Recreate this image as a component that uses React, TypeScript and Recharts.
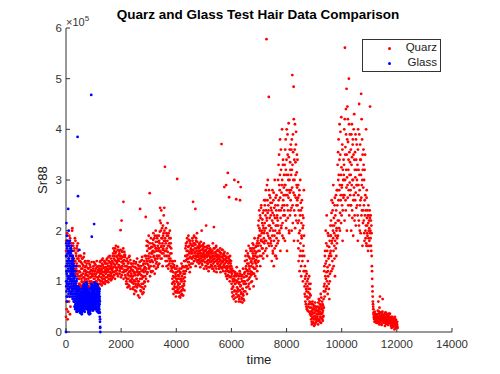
import React from "react";
import { ScatterChart, Scatter, XAxis, YAxis } from "recharts";

// Sr88 readings in thousands. Each material has two interleaved sample runs:
// run A at t = i*step, run B half a step later.
const quarzStep = 12;
const glassStep = 5;

const quarzValues = [
  30,180,45,150,120,25,170,95,140,60,190,110,35,160,130,80,175,100,145,205,
  150,120,170,95,135,160,110,185,140,100,155,125,90,165,145,115,175,130,105,150,
  120,95,140,110,150,88,125,105,135,98,145,115,92,130,108,155,100,122,140,112,
  105,130,85,118,95,140,75,110,125,90,135,100,115,82,128,108,95,120,70,112,
  95,120,80,130,105,72,115,135,90,110,125,85,100,140,78,118,95,108,130,88,
  110,130,95,120,140,100,115,125,92,135,105,145,112,98,128,118,105,138,95,122,
  115,135,100,125,145,108,120,130,98,140,112,125,150,105,118,135,102,128,110,140,
  125,150,108,165,135,118,160,142,105,155,128,170,115,148,138,122,162,110,145,132,
  140,160,115,150,125,201,108,145,220,130,158,118,140,165,105,135,152,122,148,112,
  120,140,95,130,105,145,88,125,112,138,92,118,150,100,128,85,135,110,122,98,
  110,130,85,120,95,140,75,115,100,128,90,135,80,118,105,145,92,112,72,125,
  100,130,68,115,243,90,140,80,120,105,148,75,110,95,135,85,125,100,150,90,
  120,227,105,145,180,115,135,170,100,150,190,125,140,274,110,165,130,185,118,155,
  140,175,120,160,195,130,150,185,115,170,145,200,125,165,138,190,150,128,178,160,
  150,190,135,175,220,160,145,200,240,170,155,185,130,210,165,195,180,245,150,326,
  180,140,205,160,130,190,150,215,170,125,195,145,175,135,200,155,185,120,165,140,
  120,95,135,85,110,75,128,100,90,140,80,115,70,105,125,88,302,98,78,112,
  85,110,70,125,95,68,118,80,105,135,75,100,90,128,72,115,95,140,82,108,
  140,165,120,175,150,130,185,145,160,125,190,138,170,155,118,180,148,162,135,172,
  160,145,185,135,257,170,150,190,140,175,155,243,130,180,165,148,195,138,168,152,
  150,165,135,175,145,160,128,170,155,140,200,148,132,162,172,142,158,125,168,150,
  145,160,130,150,168,125,155,140,165,135,152,120,170,142,158,128,148,162,138,155,
  140,160,125,150,175,135,145,207,120,165,150,130,155,140,170,118,148,160,135,152,
  145,130,160,125,150,140,165,118,135,155,371,128,148,162,138,120,152,142,130,158,
  135,150,115,145,290,125,140,105,155,314,120,145,110,266,138,100,150,125,118,140,
  110,85,125,70,100,90,120,65,105,300,80,115,95,60,110,75,128,88,100,70,
  80,105,60,95,70,120,260,90,286,75,110,65,100,58,85,125,72,95,62,115,
  100,140,80,125,95,160,110,75,135,120,150,90,170,105,130,85,145,115,160,98,
  130,160,100,145,175,115,150,90,165,125,185,140,110,155,135,170,105,148,120,180,
  170,210,140,190,240,160,200,130,225,180,250,150,195,215,165,235,145,205,185,260,
  200,250,160,230,280,180,578,220,150,260,300,190,240,464,170,270,210,185,255,230,
  180,240,140,220,280,160,200,260,130,230,190,300,150,250,210,170,270,145,225,195,
  220,300,180,260,350,200,280,380,160,240,320,210,290,400,190,250,340,230,270,310,
  250,330,180,290,380,220,310,400,160,270,350,240,300,412,200,280,360,230,320,260,
  280,360,200,320,507,250,390,300,484,180,340,270,410,230,310,370,220,290,350,260,
  250,180,290,140,220,270,120,200,300,160,240,110,190,260,150,230,100,210,170,280,
  150,90,130,70,110,55,120,80,45,100,65,140,50,85,40,110,60,75,35,95,
  40,25,55,15,35,60,20,45,30,50,12,38,25,58,18,42,30,48,22,35,
  30,50,15,40,65,25,45,20,55,35,75,18,48,28,60,38,22,52,32,80,
  90,130,70,160,110,200,85,140,230,100,170,75,120,190,95,150,65,180,115,210,
  160,220,120,260,180,140,240,200,290,130,210,170,250,110,230,190,270,150,205,175,
  250,330,190,300,380,220,280,410,200,350,260,310,424,230,290,370,180,320,270,340,
  300,400,220,561,350,260,440,320,480,200,380,290,420,250,340,500,230,310,390,270,
  280,360,200,330,410,240,300,380,190,350,270,430,220,320,260,390,210,340,290,370,
  250,330,180,400,290,220,450,310,200,370,260,340,470,230,290,380,170,320,240,360,
  220,300,180,260,350,200,240,400,170,280,210,190,230,160,250,200,220,180,240,445,
  200,230,170,210,150,120,90,70,55,45,35,30,25,40,28,22,35,30,18,32,
  25,35,18,30,60,22,40,15,28,70,32,20,38,26,14,34,24,65,30,20,
  30,18,25,35,12,28,22,38,16,30,24,20,34,14,26,32,18,28,22,36,
  20,28,12,25,8,22,30,15,24,18,10,26,20,5,30,14,22,16,8,18,
  12,20,8,
];

const quarzValuesB = [
  160,60,120,195,85,140,40,175,105,155,70,130,185,50,115,165,90,135,200,125,
  130,175,105,145,125,165,95,140,180,115,150,100,135,170,120,160,110,145,95,140,
  105,130,118,150,92,138,112,100,145,125,88,132,108,148,96,120,138,104,128,115,
  120,92,135,100,112,78,126,105,140,88,118,96,132,108,85,122,100,138,92,115,
  110,85,125,98,138,82,105,120,92,132,100,115,76,128,108,92,122,104,85,118,
  125,102,138,115,95,130,108,122,142,100,118,132,96,126,110,140,104,120,135,100,
  128,108,142,118,100,135,122,112,148,104,130,118,138,110,125,145,115,132,105,122,
  138,118,155,128,145,112,150,132,165,120,140,158,125,135,150,115,142,168,128,152,
  132,155,120,145,162,128,150,138,112,160,125,148,135,257,118,142,158,130,152,122,
  108,130,100,122,140,95,115,135,105,128,148,90,120,110,142,102,125,115,135,105,
  98,122,110,88,135,102,118,128,82,112,95,138,105,125,88,120,100,132,95,115,
  118,92,138,105,125,82,130,112,95,142,88,122,108,132,78,118,140,98,128,110,
  135,150,125,170,140,160,118,178,132,145,165,128,155,175,138,148,120,168,142,158,
  155,168,138,182,148,172,130,158,190,142,165,178,135,160,150,185,145,170,132,165,
  165,180,150,198,245,158,215,168,185,145,205,175,162,190,155,230,170,200,160,185,
  160,175,150,195,165,140,180,158,190,132,170,150,185,140,168,145,175,130,155,125,
  128,105,140,98,118,85,132,108,95,125,88,110,78,118,100,130,82,105,92,120,
  95,120,78,105,88,115,72,100,125,82,110,90,130,85,105,120,92,128,100,115,
  150,130,170,142,160,125,178,152,138,168,145,182,132,158,148,175,128,165,155,145,
  170,155,180,148,162,175,140,188,158,165,145,172,150,185,160,142,178,155,168,148,
  160,142,172,155,138,168,150,178,145,162,135,170,152,140,165,155,175,148,160,138,
  152,138,162,210,130,158,148,135,170,142,155,128,160,150,138,165,145,155,132,148,
  148,130,160,142,155,125,165,138,150,145,130,158,140,168,125,152,142,135,162,145,
  138,150,125,145,158,132,142,155,128,148,140,162,125,138,150,145,132,155,286,128,
  128,142,120,138,110,148,130,125,140,112,135,128,148,118,130,142,108,135,122,130,
  95,115,78,105,88,120,72,100,110,82,95,118,68,102,262,112,80,98,115,85,
  296,72,110,65,98,82,115,60,92,78,105,68,112,85,75,100,65,108,80,95,
  118,95,150,110,130,88,142,122,102,155,115,135,95,148,125,108,165,120,138,112,
  140,118,165,135,155,128,172,145,115,160,138,150,125,168,142,158,130,175,148,138,
  185,160,220,175,205,150,230,190,170,245,182,200,165,222,178,210,155,240,195,175,
  215,180,260,205,240,165,225,290,195,235,175,250,210,280,185,225,200,265,175,245,
  205,170,255,190,235,155,215,275,180,245,165,225,200,265,150,240,185,210,230,175,
  250,210,330,240,290,195,310,265,225,360,205,275,245,300,215,330,260,185,285,240,
  290,230,360,270,320,205,340,280,250,390,225,310,265,345,195,300,275,335,240,370,
  310,245,380,285,330,215,355,275,420,240,300,360,205,335,265,395,250,315,285,340,
  215,265,165,240,195,280,150,230,175,255,130,215,185,245,140,205,160,225,120,190,
  120,75,105,60,95,85,50,115,70,90,42,105,78,55,95,68,48,85,58,72,
  32,48,20,42,28,55,18,38,45,25,52,32,15,44,28,50,20,36,26,42,
  42,25,58,35,48,22,62,40,30,52,28,68,36,45,25,55,42,30,65,48,
  120,95,150,80,135,105,175,118,90,160,128,195,110,145,85,168,132,100,155,190,
  190,150,235,175,210,125,255,185,160,225,195,145,265,180,215,165,240,200,280,185,
  280,220,355,260,310,205,340,290,235,395,270,215,325,285,250,360,240,300,265,310,
  330,270,420,300,365,240,390,285,350,305,445,265,375,320,280,410,355,295,335,250,
  310,250,390,290,345,225,370,300,260,400,285,340,230,355,305,275,380,245,320,300,
  290,230,360,270,320,210,390,280,250,340,195,310,265,420,240,300,350,215,285,330,
  250,195,320,230,270,185,210,175,265,225,195,240,170,215,185,230,205,170,225,195,
  185,220,160,195,130,105,80,60,50,38,28,32,20,36,25,30,22,28,34,26,
  30,22,42,28,18,35,26,48,20,32,24,38,28,16,30,22,40,26,34,22,
  24,32,20,28,38,22,30,18,26,34,20,28,16,30,24,36,22,18,28,25,
  25,15,30,20,12,26,18,28,10,22,16,24,14,20,26,12,18,24,10,15,
  15,10,
];

const glassValues = [
  0,150,90,215,120,70,170,100,140,60,180,110,130,85,160,95,243,125,75,145,
  110,160,80,135,175,95,120,150,70,140,105,165,88,130,115,155,78,125,100,170,
  95,140,70,120,160,85,110,135,65,150,100,125,80,145,90,115,60,130,105,75,
  70,100,50,85,120,60,90,45,110,75,55,95,65,130,50,80,40,105,70,60,
  55,80,40,70,385,50,65,268,45,75,60,90,42,68,52,85,48,162,58,72,
  50,70,38,62,80,45,55,72,40,65,50,85,44,60,35,75,52,68,42,58,
  60,80,45,70,90,50,65,85,42,75,55,95,48,68,58,82,40,72,52,64,
  65,85,50,75,92,55,70,88,45,80,60,95,52,72,62,86,48,78,58,68,
  45,70,38,60,80,42,55,75,35,65,50,85,40,62,48,72,36,58,44,66,
  60,85,45,468,95,55,75,188,50,80,65,90,48,70,58,88,42,78,52,68,
  65,90,50,80,213,55,72,92,45,85,60,95,52,75,62,88,48,82,56,70,
  55,85,42,75,95,50,68,88,40,80,58,92,45,72,60,86,38,78,52,65,
  50,75,40,65,85,30,60,25,10,0,
];

const glassValuesB = [
  130,100,175,80,150,115,190,95,165,135,70,155,105,180,120,90,170,140,110,200,
  145,95,170,120,85,155,130,100,180,110,150,90,140,125,75,165,105,135,160,115,
  120,80,150,100,130,75,115,145,90,125,70,140,105,85,135,95,120,65,110,90,
  85,60,110,75,95,50,100,65,80,120,55,90,70,45,85,60,100,55,75,90,
  65,48,85,58,72,42,78,62,55,88,45,70,60,50,82,44,66,75,52,62,
  62,45,75,55,68,40,80,48,58,70,42,64,55,78,46,60,38,72,50,66,
  70,52,85,62,78,46,92,58,68,80,50,74,60,88,45,66,55,78,62,72,
  75,58,90,68,82,50,98,62,72,85,55,78,65,92,48,70,60,82,68,76,
  58,42,72,52,65,38,78,48,60,70,40,55,66,45,75,50,62,42,68,55,
  72,52,88,62,78,48,92,58,70,82,50,68,60,85,45,74,56,80,62,70,
  78,58,92,68,82,50,98,62,74,86,55,70,64,90,48,76,58,84,66,72,
  70,50,88,62,80,45,92,58,68,82,48,66,60,85,42,72,55,80,62,68,
  62,45,80,55,70,38,20,8,
];

const xTicks = [0, 2000, 4000, 6000, 8000, 10000, 12000, 14000];
const yTicks = [0, 100000, 200000, 300000, 400000, 500000, 600000];

const toPoints = (vals: number[], step: number, offset: number) =>
  vals.map((v, i) => ({ time: i * step + offset, sr: v * 1000 }));

const quarzData = [
  ...toPoints(quarzValues, quarzStep, 0),
  ...toPoints(quarzValuesB, quarzStep, quarzStep / 2),
];
const glassData = [
  ...toPoints(glassValues, glassStep, 0),
  ...toPoints(glassValuesB, glassStep, glassStep / 2),
];

const font = "'Liberation Sans', Arial, sans-serif";
const tickStyle = { fontSize: 11.5, fill: "#333", fontFamily: font };

const dot = (color: string) => (props: any) =>
  <circle cx={props.cx} cy={props.cy} r={1.4} fill={color} />;

export default function App() {
  return (
    <div style={{ position: "absolute", left: 0, top: 0, width: 500, height: 374, background: "#fff", fontFamily: font }}>
      <ScatterChart width={500} height={374} margin={{ top: 28, right: 48, bottom: 0, left: 0 }}>
        <XAxis
          type="number"
          dataKey="time"
          domain={[0, 14000]}
          ticks={xTicks}
          height={42}
          tickSize={-4}
          tickMargin={12}
          tick={tickStyle}
          stroke="#333"
        />
        <YAxis
          type="number"
          dataKey="sr"
          domain={[0, 600000]}
          ticks={yTicks}
          width={66}
          tickSize={-4}
          tickMargin={8}
          tick={tickStyle}
          stroke="#333"
          tickFormatter={(v: number) => String(v / 100000)}
        />
        <Scatter name="Quarz" data={quarzData} shape={dot("#ff0000")} isAnimationActive={false} />
        <Scatter name="Glass" data={glassData} shape={dot("#0000ff")} isAnimationActive={false} />
      </ScatterChart>

      <div style={{ position: "absolute", left: 0, width: 516, top: 7, textAlign: "center", fontWeight: "bold", fontSize: 13.5, color: "#000" }}>
        Quarz and Glass Test Hair Data Comparison
      </div>
      <div style={{ position: "absolute", left: 66, top: 14, fontSize: 11, color: "#333" }}>
        ×10<sup style={{ fontSize: 8 }}>5</sup>
      </div>
      <div style={{ position: "absolute", left: 0, width: 518, top: 352, textAlign: "center", fontSize: 13.2, color: "#222" }}>
        time
      </div>
      <div style={{ position: "absolute", left: 42, top: 180, transform: "translate(-50%, -50%) rotate(-90deg)", fontSize: 13.2, color: "#222" }}>
        Sr88
      </div>

      <div style={{ position: "absolute", left: 362, top: 39, width: 77, height: 31, border: "1px solid #333", background: "#fff", fontSize: 11.5, color: "#222" }}>
        <div style={{ position: "absolute", left: 25, top: 7, width: 3, height: 3, borderRadius: 2, background: "#ff0000" }} />
        <div style={{ position: "absolute", right: 3, top: 1 }}>Quarz</div>
        <div style={{ position: "absolute", left: 25, top: 22, width: 3, height: 3, borderRadius: 2, background: "#0000ff" }} />
        <div style={{ position: "absolute", right: 3, top: 16 }}>Glass</div>
      </div>
    </div>
  );
}
